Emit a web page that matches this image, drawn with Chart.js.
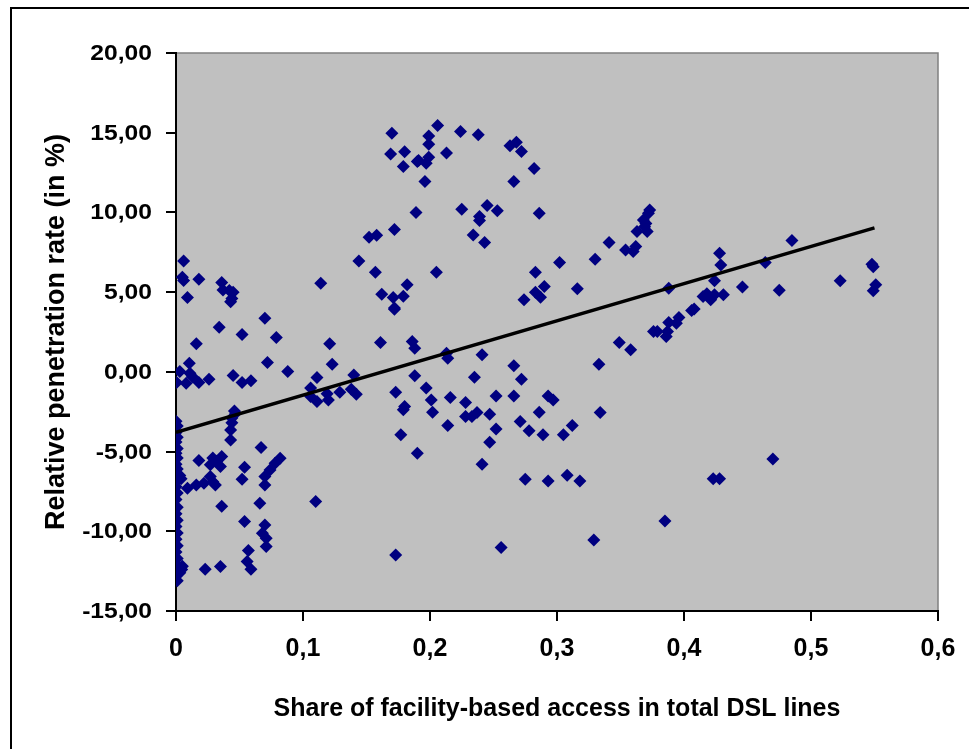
<!DOCTYPE html>
<html>
<head>
<meta charset="utf-8">
<script src="https://cdn.jsdelivr.net/npm/chart.js@4.4.1/dist/chart.umd.min.js"></script>
<style>
  html, body { margin: 0; padding: 0; background: #fff; }
  #wrap { width: 969px; height: 749px; }
</style>
</head>
<body>
<div id="wrap"><canvas id="dslChart" width="969" height="749"></canvas></div>
<script>
// share of facility-based access (x) and relative penetration rate (y)
const shareValues = [
  0, 0.001, 0, 0.001, 0, 0.001, 0, 0.001, 0, 0.001, 0, 0.001, 0, 0.001,
  0, 0.001, 0, 0.001, 0, 0.001, 0, 0.001, 0, 0.001, 0, 0.001, 0, 0.001,
  0.004, 0.003, 0.0045, 0.003, 0.0005, 0.003, 0.005,
  0.006, 0.005, 0.006, 0.018, 0.009, 0.036, 0.037, 0.042, 0.045, 0.043, 0.044,
  0.070, 0.034, 0.052, 0.079, 0.114,
  0.016, 0.0105, 0.011, 0.008, 0.018, 0.026, 0.045, 0.052, 0.059, 0.072, 0.088, 0.013,
  0.046, 0.047, 0.044, 0.043, 0.043, 0.044,
  0.018, 0.029, 0.036, 0.027, 0.035, 0.027, 0.031, 0.022, 0.016, 0.009, 0.036,
  0.054, 0.052, 0.067, 0.082, 0.078, 0.074, 0.070, 0.070, 0.066, 0.054, 0.070,
  0.068, 0.071, 0.071, 0.057, 0.056, 0.059, 0.023, 0.035, 0.029, 0.032,
  0.121, 0.123, 0.111, 0.106, 0.106, 0.111, 0.119, 0.120, 0.129, 0.140, 0.138, 0.142, 0.110,
  0.144, 0.152, 0.158, 0.172, 0.189, 0.157, 0.162, 0.171, 0.172, 0.179, 0.182,
  0.170, 0.169, 0.180, 0.179, 0.190, 0.161, 0.186, 0.188, 0.188, 0.173, 0.180,
  0.179, 0.177, 0.190, 0.173, 0.172,
  0.206, 0.224, 0.238, 0.199, 0.199, 0.213, 0.191, 0.199, 0.197, 0.196, 0.263,
  0.268, 0.272, 0.282, 0.266, 0.225, 0.245, 0.253, 0.239, 0.239, 0.234, 0.243,
  0.286, 0.205, 0.283, 0.302, 0.330, 0.341, 0.316, 0.274, 0.283, 0.290, 0.287,
  0.354, 0.360, 0.362, 0.363, 0.371, 0.369, 0.368, 0.372, 0.373, 0.370,
  0.213, 0.214, 0.241, 0.197, 0.201, 0.202, 0.214, 0.216, 0.235, 0.228, 0.228,
  0.233, 0.237, 0.247, 0.252, 0.252, 0.247, 0.241, 0.266, 0.272, 0.266, 0.271,
  0.278, 0.286, 0.289, 0.293, 0.297, 0.312, 0.305, 0.275, 0.293, 0.308, 0.318,
  0.333, 0.334, 0.349, 0.358, 0.329, 0.256, 0.376,
  0.485, 0.428, 0.429, 0.464, 0.424, 0.431, 0.446, 0.475, 0.523, 0.548, 0.549,
  0.551, 0.549, 0.388, 0.415, 0.421, 0.424, 0.418, 0.406, 0.408, 0.396, 0.394,
  0.388, 0.386, 0.379, 0.387, 0.470, 0.423, 0.428, 0.385
];
const rateValues = [
  -3.1, -3.4, -3.8, -4.1, -4.4, -4.8, -5.1, -5.4, -5.8, -6.1, -6.4, -6.8, -7.2, -7.6,
  -8.0, -8.5, -8.9, -9.3, -9.7, -10.1, -10.5, -10.9, -11.3, -11.7, -12.1, -12.4, -12.8, -13.1,
  -6.7, -6.5, -12.4, -12.6, -0.67, 0.02, -12.2,
  6.96, 5.94, 5.73, 5.81, 4.66, 5.6, 5.14, 5.1, 5.0, 4.39, 4.6,
  3.37, 2.8, 2.34, 2.15, 5.56,
  1.76, 0.54, -0.08, -0.71, -0.67, -0.46, -0.23, -0.67, -0.56, 0.58, 0.02, -0.3,
  -2.45, -2.6, -2.9, -3.64, -4.27, -3.2,
  -5.56, -5.41, -5.31, -5.83, -5.94, -6.57, -7.09, -6.99, -7.09, -7.3, -8.43,
  -5.98, -6.73, -4.75, -5.42, -5.73, -6.15, -6.57, -7.09, -8.24, -9.39, -9.6,
  -10.12, -10.44, -10.96, -11.2, -11.9, -12.38, -12.38, -12.21, -6.9, -5.6,
  1.76, 0.48, -0.36, -1.02, -1.55, -1.86, -1.38, -1.76, -1.28, -0.19, -1.09, -1.4, -8.13,
  6.96, 8.45, 8.57, 8.93, 9.99, 6.25, 4.87, 4.66, 3.93, 4.75, 5.46,
  14.97, 13.67, 13.8, 12.88, 13.19, 1.84, 1.9, 1.48, -0.25, -1.28, -2.17,
  -2.38, -3.95, -5.1, -11.48, 4.0,
  15.45, 15.07, 14.87, 14.8, 14.28, 13.72, 13.25, 13.46, 13.09, 11.94, 14.18,
  14.4, 13.82, 12.75, 11.94, 10.2, 10.43, 10.1, 9.74, 9.49, 8.59, 8.11,
  9.95, 6.25, 6.25, 6.86, 7.07, 8.11, 5.22, 4.52, 5.0, 5.35, 4.68,
  7.65, 7.55, 7.86, 8.8, 8.8, 9.1, 9.53, 9.95, 10.16, 9.3,
  1.17, 0.86, 1.07, -1.02, -1.76, -2.53, -3.37, -1.61, -0.34, -1.92, -2.8,
  -2.8, -2.55, -2.66, -1.51, -3.58, -4.42, -5.8, 0.38, -0.46, -1.51, -3.12,
  -3.7, -2.53, -3.95, -1.51, -1.76, -3.37, -3.95, -6.73, -6.84, -6.48, -6.84,
  0.48, -2.55, 1.84, 1.38, -10.54, -11.02, 2.53,
  8.24, 7.44, 6.71, 6.86, 5.71, 4.83, 5.33, 5.12, 5.71, 6.75, 6.6,
  5.46, 5.08, 5.25, 4.72, 4.52, 4.83, 4.9, 3.85, 3.95, 3.41, 3.05,
  3.09, 2.21, 2.53, 2.53, -5.46, -6.71, -6.71, -9.35
];
// linear trend line, end points
const trendX = [0, 0.55];
const trendY = [-3.8, 9.03];

const xTicks = [0, 0.1, 0.2, 0.3, 0.4, 0.5, 0.6];
const yTicks = [-15, -10, -5, 0, 5, 10, 15, 20];

const points = shareValues.map((x, i) => ({ x: x, y: rateValues[i] }));
const trend = trendX.map((x, i) => ({ x: x, y: trendY[i] }));

const fmtComma = (v, digits) => v.toFixed(digits).replace(".", ",");

// grey plot area and outer frame
const plotFrame = {
  id: "plotFrame",
  beforeDraw(chart) {
    const { ctx, chartArea: a } = chart;
    ctx.save();
    ctx.fillStyle = "#fff";
    ctx.fillRect(0, 0, chart.width, chart.height);
    ctx.strokeStyle = "#000";
    ctx.lineWidth = 2;
    ctx.beginPath();
    ctx.moveTo(11, chart.height);
    ctx.lineTo(11, 8);
    ctx.lineTo(chart.width, 8);
    ctx.stroke();
    ctx.fillStyle = "#c0c0c0";
    ctx.fillRect(a.left, a.top, a.right - a.left, a.bottom - a.top);
    ctx.strokeStyle = "#808080";
    ctx.lineWidth = 1.5;
    ctx.beginPath();
    ctx.moveTo(a.left, a.top);
    ctx.lineTo(a.right, a.top);
    ctx.lineTo(a.right, a.bottom);
    ctx.stroke();
    ctx.restore();
  },
  afterDraw(chart) {
    // y tick labels are drawn a bit wide, as in the original
    const { ctx } = chart;
    const sc = chart.scales.y;
    ctx.save();
    ctx.fillStyle = "#000";
    ctx.font = "bold 22px 'Liberation Sans', Arial, sans-serif";
    ctx.textAlign = "right";
    ctx.textBaseline = "middle";
    sc.ticks.forEach((t) => {
      const y = sc.getPixelForValue(t.value);
      ctx.save();
      ctx.translate(152, y + 1);
      ctx.scale(1.12, 1);
      ctx.fillText(fmtComma(t.value, 2), 0, 0);
      ctx.restore();
    });
    ctx.restore();
  },
};

new Chart(document.getElementById("dslChart"), {
  type: "scatter",
  data: {
    datasets: [
      {
        type: "line",
        data: trend,
        borderColor: "#000",
        borderWidth: 3.5,
        pointRadius: 0,
        fill: false,
      },
      {
        data: points,
        pointStyle: "rectRot",
        pointRadius: 6.5,
        pointBackgroundColor: "#000080",
        pointBorderColor: "#000080",
        pointBorderWidth: 0,
      },
    ],
  },
  options: {
    responsive: false,
    animation: false,
    layout: { padding: { top: 53, right: 31, left: 0, bottom: 0 } },
    plugins: {
      legend: { display: false },
      tooltip: { enabled: false },
    },
    scales: {
      x: {
        type: "linear",
        min: 0,
        max: 0.6,
        afterBuildTicks: (s) => { s.ticks = xTicks.map((v) => ({ value: v })); },
        afterFit: (s) => { s.height = 138; },
        border: { color: "#000", width: 2 },
        grid: { drawOnChartArea: false, drawTicks: true, tickLength: 10, color: "#000", lineWidth: 2 },
        ticks: {
          color: "#000",
          padding: 13,
          font: { family: "'Liberation Sans', Arial, sans-serif", size: 25, weight: "bold" },
          callback: (v) => fmtComma(v, v === 0 ? 0 : 1),
        },
        title: {
          display: true,
          text: "Share of facility-based access in total DSL lines",
          color: "#000",
          font: { family: "'Liberation Sans', Arial, sans-serif", size: 25, weight: "bold" },
          padding: { top: 0, bottom: 25 },
        },
      },
      y: {
        type: "linear",
        min: -15,
        max: 20,
        afterBuildTicks: (s) => { s.ticks = yTicks.map((v) => ({ value: v })); },
        afterFit: (s) => { s.width = 176; },
        border: { color: "#000", width: 2 },
        grid: { drawOnChartArea: false, drawTicks: true, tickLength: 10, color: "#000", lineWidth: 2 },
        ticks: { display: false },
        title: {
          display: true,
          text: "Relative penetration rate (in %)",
          color: "#000",
          font: { family: "'Liberation Sans', Arial, sans-serif", size: 27, weight: "bold" },
          padding: { top: 40, bottom: 0 },
        },
      },
    },
  },
  plugins: [plotFrame],
});
</script>
</body>
</html>
